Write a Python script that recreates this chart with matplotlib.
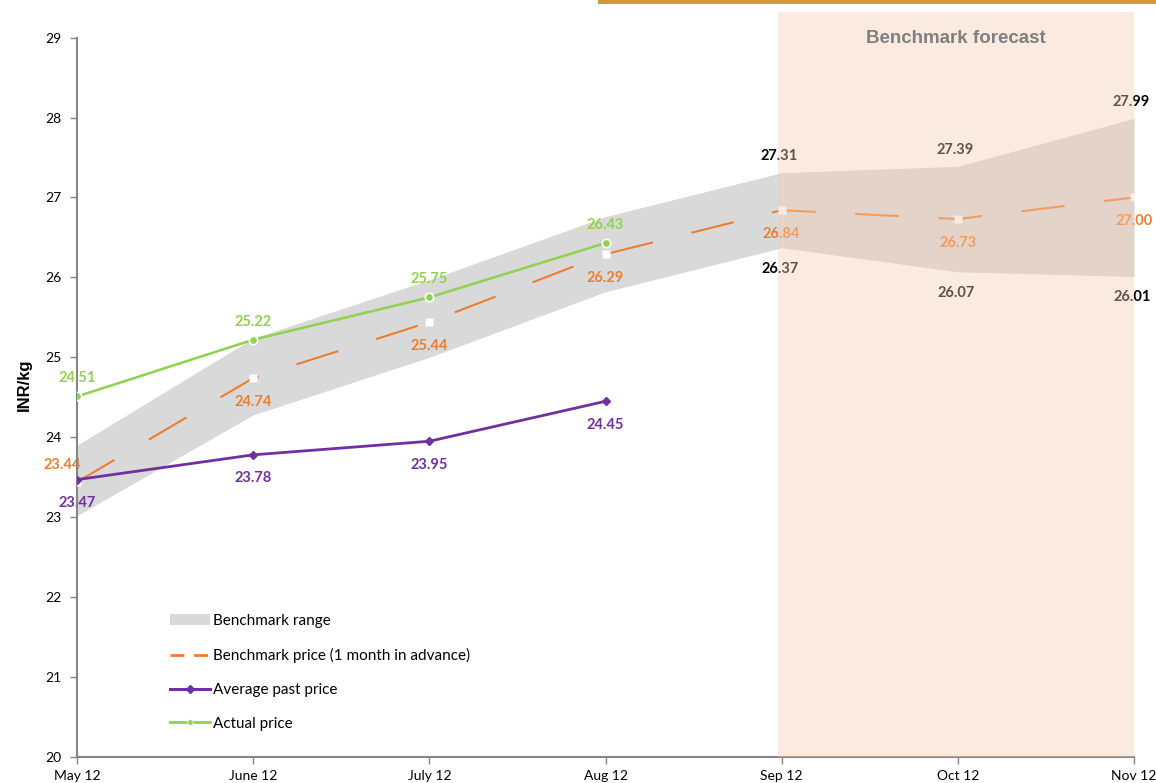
import matplotlib
matplotlib.use('Agg')
from matplotlib import pyplot as plt
from matplotlib.lines import Line2D
from matplotlib.patches import Patch, Rectangle
import numpy as np

# chart data
months = ['May 12', 'June 12', 'July 12', 'Aug 12', 'Sep 12', 'Oct 12', 'Nov 12']
range_high = [23.90, 25.24, 25.97, 26.76, 27.31, 27.39, 27.99]
range_low = [23.02, 24.28, 25.00, 25.82, 26.37, 26.07, 26.01]
bench_price = [23.44, 24.74, 25.44, 26.29, 26.84, 26.73, 27.00]
avg_past = [23.47, 23.78, 23.95, 24.45]
actual = [24.51, 25.22, 25.75, 26.43]
forecast_start = 3.98

ORANGE = '#ED7D31'
PURPLE = '#7030A0'
GREEN = '#92D050'
GREY = '#D9D9D9'
LBL = ['Lato', 'DejaVu Sans']

plt.rcParams['font.family'] = LBL

fig = plt.figure(figsize=(11.56, 7.83), dpi=100)
ax = fig.add_axes([77 / 1156, 1 - 757 / 783, (1134 - 77) / 1156, (757 - 12) / 783])

x = np.arange(len(months))
xa = np.arange(len(actual))

ax.fill_between(x, range_low, range_high, color=GREY, lw=0, zorder=1)
ax.plot(x, bench_price, color=ORANGE, lw=1.5, dashes=[21, 19], zorder=3)
ax.plot(x, bench_price, ls='none', marker='s', ms=6, mfc='white', mec='none', zorder=3.5)
ax.plot(xa, avg_past, color=PURPLE, lw=2, marker='D', ms=4.5, zorder=4)
ax.plot(xa, actual, color=GREEN, lw=1.8, marker='o', ms=6, mec='white', mew=1.2, zorder=4)

lab = dict(ha='center', va='center', fontsize=10.5, fontweight='bold', zorder=2.5)
for i, v in enumerate(actual):
    ax.annotate('%.2f' % v, (i, v), xytext=(0, 13), textcoords='offset points', color=GREEN, **lab)
for i, v in enumerate(bench_price):
    if i == 0:
        ax.annotate('%.2f' % v, (i, v), xytext=(-11, 12), textcoords='offset points', color=ORANGE, **lab)
    else:
        ax.annotate('%.2f' % v, (i, v), xytext=(0, -17), textcoords='offset points', color=ORANGE, **lab)
for i, v in enumerate(avg_past):
    ax.annotate('%.2f' % v, (i, v), xytext=(0, -17), textcoords='offset points', color=PURPLE, **lab)
for i in range(4, len(months)):
    ax.annotate('%.2f' % range_high[i], (i, range_high[i]), xytext=(-2, 12), textcoords='offset points',
                color='black', **lab)
    ax.annotate('%.2f' % range_low[i], (i, range_low[i]), xytext=(-1, -15), textcoords='offset points',
                color='black', **lab)

# forecast overlay drawn on top of everything in the forecast months
ax.axvspan(forecast_start, x[-1], color='#F7CCAF', alpha=0.4, lw=0, zorder=5)
ax.text((forecast_start + x[-1]) / 2, 28.99, 'Benchmark forecast', ha='center', va='center',
        fontsize=13.5, fontweight='bold', color='#808080', family=['Liberation Sans', 'DejaVu Sans'], zorder=6)

ax.set_xlim(0, 6)
ax.set_ylim(20, 29.32)
ax.set_yticks(range(20, 30))
ax.set_xticks(x)
ax.set_xticklabels(months)
for s in ['top', 'right']:
    ax.spines[s].set_visible(False)
ax.spines['left'].set_bounds(20, 29)
for s in ['left', 'bottom']:
    ax.spines[s].set_color('#868686')
    ax.spines[s].set_linewidth(1.5)
ax.tick_params(axis='both', colors='#868686', labelcolor='black', labelsize=10, length=5, width=1)
ax.tick_params(axis='y', pad=6)
ax.tick_params(axis='x', pad=4)
ax.set_ylabel('INR/kg', fontsize=12, fontweight='bold', family=['Liberation Sans', 'DejaVu Sans'], labelpad=10)

handles = [Patch(color=GREY, lw=0),
           Line2D([], [], color=ORANGE, lw=2, dashes=[5, 3.5]),
           Line2D([], [], color=PURPLE, lw=2.2, marker='D', ms=4),
           Line2D([], [], color=GREEN, lw=2, marker='o', ms=4, mec='white', mew=0.5)]
labels = ['Benchmark range', 'Benchmark price (1 month in advance)', 'Average past price', 'Actual price']
ax.legend(handles, labels, loc='upper left', bbox_to_anchor=(0.082, 0.2), frameon=False, fontsize=11,
          handlelength=2.6, handletextpad=0.2, labelspacing=1.3, borderaxespad=0)

# thin orange strip at the very top
fig.patches.append(Rectangle((598 / 1156, 1 - 4 / 783), 1, 4 / 783, transform=fig.transFigure,
                             color='#D6963A', lw=0))

fig.savefig('out.png', dpi=100)
